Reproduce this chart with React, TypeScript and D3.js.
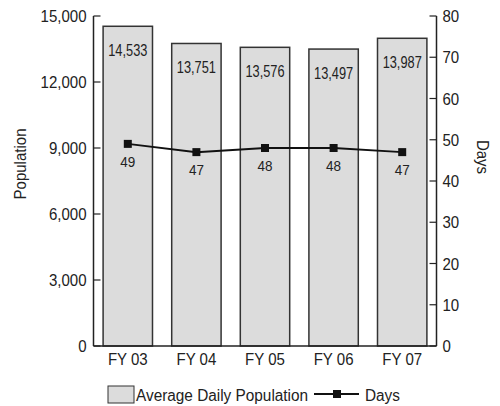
import React from "react";
import * as d3 from "d3";

const categories = ["FY 03", "FY 04", "FY 05", "FY 06", "FY 07"];
const population = [14533, 13751, 13576, 13497, 13987];
const days = [49, 47, 48, 48, 47];
const leftTicks = [0, 3000, 6000, 9000, 12000, 15000];
const rightTicks = [0, 10, 20, 30, 40, 50, 60, 70, 80];

const W = 500;
const H = 406;
const M = { left: 93.5, right: 436.5, top: 16, bottom: 346 };
const FONT = "Arial, 'Liberation Sans', sans-serif";

function T({
  x,
  y,
  size,
  sx = 1,
  anchor = "start",
  rotate = 0,
  children,
}: {
  x: number;
  y: number;
  size: number;
  sx?: number;
  anchor?: string;
  rotate?: number;
  children: React.ReactNode;
}) {
  return (
    <text
      transform={`translate(${x},${y}) rotate(${rotate}) scale(${sx},1)`}
      textAnchor={anchor}
      fontSize={size}
      fill="#222"
    >
      {children}
    </text>
  );
}

export default function App() {
  const x = d3
    .scaleBand<string>()
    .domain(categories)
    .range([M.left, M.right])
    .paddingInner(0.28)
    .paddingOuter(0.14);
  const yL = d3.scaleLinear().domain([0, 15000]).range([M.bottom, M.top]);
  const yR = d3.scaleLinear().domain([0, 80]).range([M.bottom, M.top]);
  const fmt = d3.format(",");
  const cx = (i: number) => (x(categories[i]) as number) + x.bandwidth() / 2;
  const line = d3
    .line<number>()
    .x((_, i) => cx(i))
    .y((d) => yR(d));

  return (
    <svg width={W} height={H} style={{ position: "absolute", left: 0, top: 0 }} fontFamily={FONT}>
      <rect width={W} height={H} fill="#fff" />
      {population.map((v, i) => (
        <rect
          key={"b" + i}
          x={x(categories[i])}
          y={yL(v)}
          width={x.bandwidth()}
          height={yL(0) - yL(v)}
          fill="#dcdcdc"
          stroke="#333"
          strokeWidth={1.5}
        />
      ))}
      {population.map((v, i) => (
        <T key={"bl" + i} x={cx(i)} y={yL(v) + 29.5} size={16} sx={0.8} anchor="middle">
          {fmt(v)}
        </T>
      ))}
      <line x1={M.left} x2={M.left} y1={M.top} y2={M.bottom} stroke="#222" strokeWidth={1.5} />
      <line x1={M.right} x2={M.right} y1={M.top} y2={M.bottom} stroke="#222" strokeWidth={1.5} />
      <line x1={M.left} x2={M.right} y1={M.bottom} y2={M.bottom} stroke="#222" strokeWidth={1.5} />
      {leftTicks.map((t) => (
        <g key={"lt" + t}>
          <line x1={M.left} x2={M.left + 7} y1={yL(t)} y2={yL(t)} stroke="#222" strokeWidth={1.2} />
          <T x={M.left - 7} y={yL(t) + 6} size={16} sx={0.94} anchor="end">
            {fmt(t)}
          </T>
        </g>
      ))}
      {rightTicks.map((t) => (
        <g key={"rt" + t}>
          <line x1={M.right - 7} x2={M.right} y1={yR(t)} y2={yR(t)} stroke="#222" strokeWidth={1.2} />
          <T x={M.right + 6} y={yR(t) + 6} size={16} sx={0.94}>
            {t}
          </T>
        </g>
      ))}
      {categories.map((c, i) => (
        <T key={"xc" + c} x={cx(i)} y={M.bottom + 19} size={16} sx={0.94} anchor="middle">
          {c}
        </T>
      ))}
      <T x={26} y={164} size={16} sx={0.94} anchor="middle" rotate={-90}>
        Population
      </T>
      <T x={477} y={157} size={16} sx={0.94} anchor="middle" rotate={90}>
        Days
      </T>
      <path d={line(days) || ""} fill="none" stroke="#111" strokeWidth={2} />
      {days.map((d, i) => (
        <g key={"m" + i}>
          <rect x={cx(i) - 4} y={yR(d) - 4} width={8} height={8} fill="#111" />
          <T x={cx(i)} y={yR(d) + 23} size={15} sx={0.9} anchor="middle">
            {d}
          </T>
        </g>
      ))}
      <rect x={108} y={386} width={26} height={17} fill="#dcdcdc" stroke="#333" strokeWidth={1} />
      <T x={136} y={401} size={16} sx={0.96}>
        Average Daily Population
      </T>
      <line x1={314} x2={359} y1={394} y2={394} stroke="#111" strokeWidth={2} />
      <rect x={333} y={390} width={8} height={8} fill="#111" />
      <T x={365} y={401} size={16} sx={0.96}>
        Days
      </T>
    </svg>
  );
}
